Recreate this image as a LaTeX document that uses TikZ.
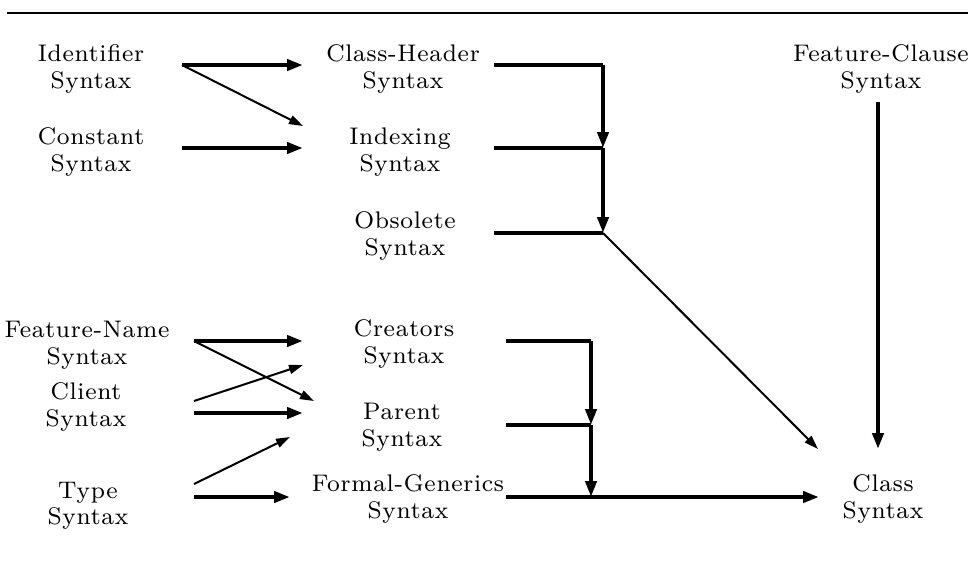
\documentclass[tikz,border=0pt]{standalone}
\usepackage{fontspec}
\newfontfamily\labelfont{lmroman8-regular.otf}[LetterSpace=3]
\usetikzlibrary{arrows.meta}
\begin{document}
\begin{tikzpicture}[x=0.5pt,y=-0.5pt,
  label/.style={align=center,inner sep=0pt,
    font=\labelfont\fontsize{12}{13.25}\selectfont},
  heavy/.style={line width=2pt,-{Triangle[length=8pt,width=5.5pt]}},
  light/.style={line width=1pt,-{Triangle[length=7pt,width=4.5pt]}},
  bar/.style={line width=2pt},
  rule/.style={line width=1pt}]
\useasboundingbox (0,0) rectangle (972,569);

% heading rule
\coordinate (ruleL) at (7,13);
\coordinate (ruleR) at (968,13);
\draw[rule] (ruleL) -- (ruleR);

% syntax groups
\node[label] (id) at (91,69)  {Identifier\\Syntax};
\node[label] (cn) at (91,152) {Constant\\Syntax};
\node[label] (ch) at (403,69)  {Class-Header\\Syntax};
\node[label] (ix) at (400,152) {Indexing\\Syntax};
\node[label] (ob) at (405,236) {Obsolete\\Syntax};
\node[label] (fc) at (881,69)  {Feature-Clause\\Syntax};
\node[label] (fn) at (87,345)  {Feature-Name\\Syntax};
\node[label] (cl) at (86,407)  {Client\\Syntax};
\node[label] (ty) at (88,506)  {Type\\Syntax};
\node[label] (cr) at (404,344) {Creators\\Syntax};
\node[label] (pa) at (402,427) {Parent\\Syntax};
\node[label] (fg) at (408,499) {Formal-Generics\\Syntax};
\node[label] (cs) at (883,499) {Class\\Syntax};

% connector ports
\coordinate (idR) at (182,65);
\coordinate (chL) at (303,65);
\coordinate (ixLd) at (303,126);
\coordinate (cnR) at (182,148);
\coordinate (ixL) at (303,148);
\coordinate (chR) at (494,65);
\coordinate (ixR) at (494,148);
\coordinate (obR) at (494,233);
\coordinate (jA) at (603,65);
\coordinate (jB) at (603,148);
\coordinate (jC) at (603,233);
\coordinate (fcB) at (878,102);
\coordinate (csN) at (878,449);
\coordinate (csNW) at (818,449);
\coordinate (csW) at (819,497);
\coordinate (fnR) at (194,341);
\coordinate (crL) at (303,341);
\coordinate (paLd) at (314,401);
\coordinate (clRd) at (194,401);
\coordinate (crLd) at (303,365);
\coordinate (clR) at (194,413);
\coordinate (paL) at (303,413);
\coordinate (tyRd) at (194,484);
\coordinate (paLu) at (290,437);
\coordinate (tyR) at (194,497);
\coordinate (fgL) at (290,497);
\coordinate (crR) at (506,341);
\coordinate (paR) at (506,425);
\coordinate (fgR) at (506,497);
\coordinate (jD) at (591,341);
\coordinate (jE) at (591,425);
\coordinate (jF) at (591,497);

% upper block
\draw[heavy] (idR) -- (chL);
\draw[light] (idR) -- (ixLd);
\draw[heavy] (cnR) -- (ixL);
\draw[bar] (chR) -- (jA);
\draw[heavy] (jA) -- (jB);
\draw[bar] (ixR) -- (jB);
\draw[heavy] (jB) -- (jC);
\draw[bar] (obR) -- (jC);
\draw[light] (jC) -- (csNW);
\draw[heavy] (fcB) -- (csN);

% lower block
\draw[heavy] (fnR) -- (crL);
\draw[light] (fnR) -- (paLd);
\draw[light] (clRd) -- (crLd);
\draw[heavy] (clR) -- (paL);
\draw[light] (tyRd) -- (paLu);
\draw[heavy] (tyR) -- (fgL);
\draw[bar] (crR) -- (jD);
\draw[heavy] (jD) -- (jE);
\draw[bar] (paR) -- (jE);
\draw[heavy] (jE) -- (jF);
\draw[heavy] (fgR) -- (csW);
\end{tikzpicture}
\end{document}
